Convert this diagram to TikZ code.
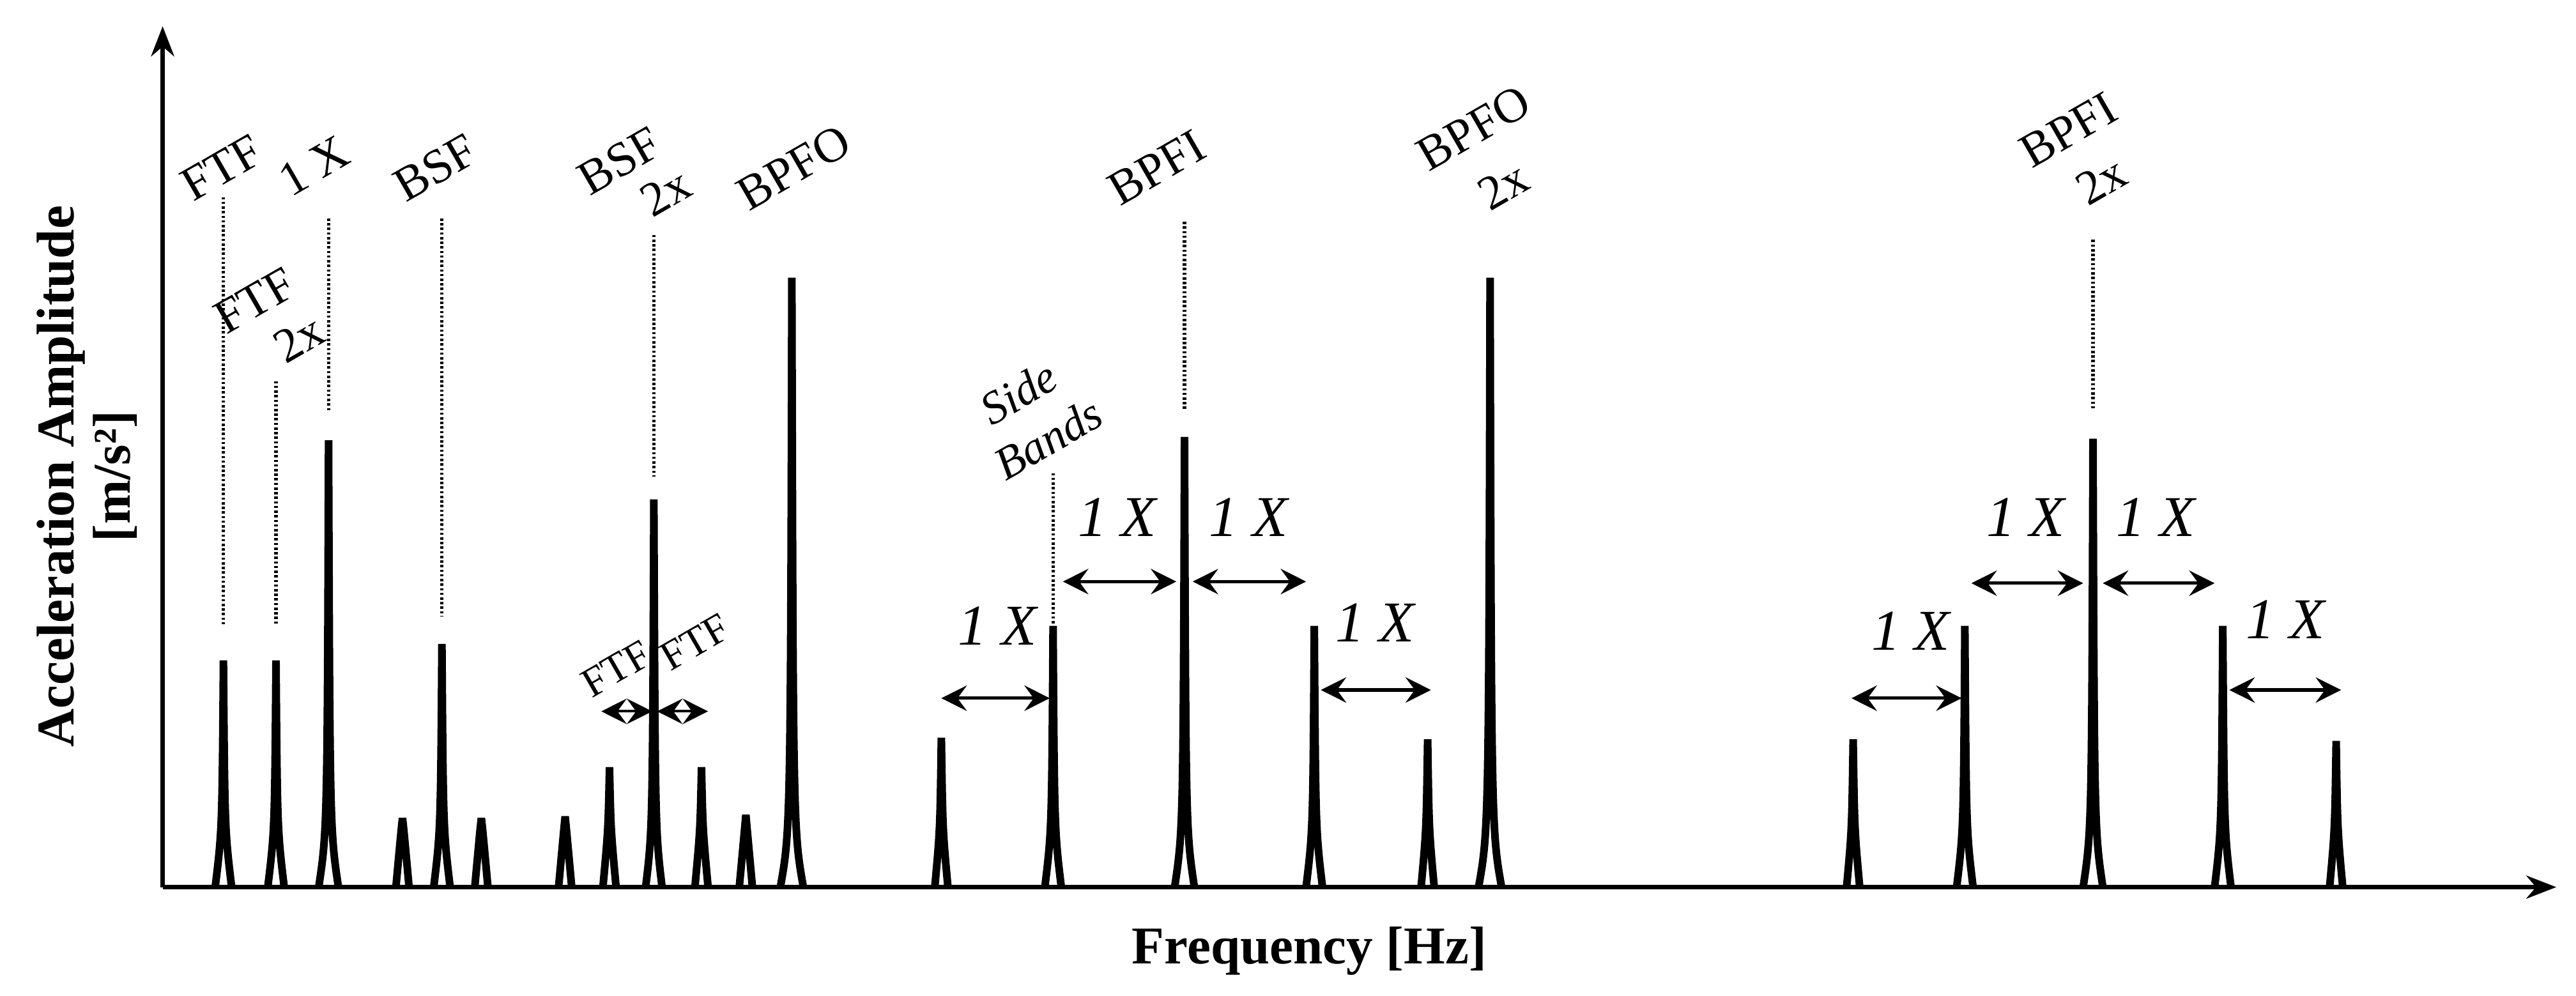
\documentclass[tikz,border=0pt]{standalone}
\usepackage{fontspec}
\setmainfont{Liberation Serif}
\usetikzlibrary{arrows.meta}
\begin{document}
\begin{tikzpicture}[x=0.025cm,y=-0.025cm,
  spikeln/.style={line width=3.3pt,line join=bevel},
  guide/.style={dash pattern=on 1pt off 1pt,line width=1.4pt},
  axisln/.style={line width=1.8pt,-{Stealth[length=13pt,width=10pt]}},
  gap/.style={line width=1.4pt,{Stealth[length=11pt,width=11pt,inset=4pt]}-{Stealth[length=11pt,width=11pt,inset=4pt]}},
  lbl/.style={rotate=30,font=\fontsize{21}{23}\selectfont,inner sep=0pt},
  onex/.style={font=\itshape\fontsize{25}{27}\selectfont,inner sep=0pt},
  axlbl/.style={font=\bfseries\fontsize{23}{26}\selectfont,inner sep=0pt}]
\useasboundingbox (0,0) rectangle (1568,606);
\newcommand{\myspike}[4]{%
  \coordinate (#4) at (#1,#2);
  \draw[spikeln] (#1-#3,540) .. controls (#1-0.8,505) .. (#1,#2) .. controls (#1+0.8,505) .. (#1+#3,540);}
% axes
\coordinate (O) at (99,540);
\coordinate (ytop) at (99,16);
\coordinate (xend) at (1556,540);
\draw[axisln] (O) -- (ytop);
\draw[axisln] (O) -- (xend);
% spikes
\myspike{136}{402}{5}{s1}
\myspike{168}{402}{5}{s2}
\myspike{200}{268}{6}{s3}
\myspike{245}{498}{4}{s4}
\myspike{269}{392}{5}{s5}
\myspike{293}{498}{4}{s6}
\myspike{344}{497}{4}{s7}
\myspike{371}{467}{4}{s8}
\myspike{398}{304}{5}{s9}
\myspike{427}{467}{4}{s10}
\myspike{454}{496}{4}{s11}
\myspike{482}{169}{7}{s12}
\myspike{573}{449}{4}{s13}
\myspike{641}{381}{5}{s14}
\myspike{721}{266}{6}{s15}
\myspike{800}{381}{5}{s16}
\myspike{869}{450}{4}{s17}
\myspike{907}{169}{7}{s18}
\myspike{1128}{450}{4}{s19}
\myspike{1196}{381}{5}{s20}
\myspike{1274}{267}{6}{s21}
\myspike{1353}{381}{5}{s22}
\myspike{1422}{451}{4}{s23}
% guides
\coordinate (g1) at (136,120); \coordinate (h1) at (136,380);
\coordinate (g2) at (168,232); \coordinate (h2) at (168,380);
\coordinate (g3) at (200,133); \coordinate (h3) at (200,250);
\coordinate (g5) at (269,133); \coordinate (h5) at (269,375);
\coordinate (g9) at (398,143); \coordinate (h9) at (398,290);
\coordinate (g14) at (641,288); \coordinate (h14) at (641,380);
\coordinate (g15) at (721,135); \coordinate (h15) at (721,250);
\coordinate (g21) at (1274,146); \coordinate (h21) at (1274,250);
\foreach \i in {1,2,3,5,9,14,15,21} \draw[guide] (g\i) -- (h\i);
% labels
\node[lbl] (t1) at (135,102) {FTF};
\node[lbl] (t3) at (191,101) {1 X};
\node[lbl] (t2a) at (155,183) {FTF};
\node[lbl] (t2b) at (182,206) {2x};
\node[lbl] (t5) at (265,102) {BSF};
\node[lbl] (t9a) at (377,98) {BSF};
\node[lbl] (t9b) at (405,117) {2x};
\node[lbl] (t12) at (483,102) {BPFO};
\node[lbl] (t15) at (704,102) {BPFI};
\node[lbl] (t18a) at (897,78) {BPFO};
\node[lbl] (t18b) at (915,113) {2x};
\node[lbl] (t21a) at (1259,79) {BPFI};
\node[lbl] (t21b) at (1279,110) {2x};
\node[lbl,font=\itshape\fontsize{20}{22}\selectfont] (sb1) at (620,239) {Side};
\node[lbl,font=\itshape\fontsize{20}{22}\selectfont] (sb2) at (638,267) {Bands};
\node[lbl,font=\fontsize{18}{20}\selectfont] (f1) at (375,407) {FTF};
\node[lbl,font=\fontsize{18}{20}\selectfont] (f2) at (423,391) {FTF};
% FTF arrows
\coordinate (fa1) at (366,433); \coordinate (fb1) at (397,433);
\coordinate (fa2) at (400,433); \coordinate (fb2) at (431,433);
\draw[gap,line width=1.1pt] (fa1) -- (fb1);
\draw[gap,line width=1.1pt] (fa2) -- (fb2);
% 1X arrows
\foreach \a/\b/\y/\lx/\ly [count=\k] in {573/639/425/607/381, 647/716/354/680/315, 726/795/354/760/315, 804/871/420/837/379,
  1127/1194/425/1163/384, 1200/1268/355/1233/315, 1280/1348/355/1312/315, 1357/1425/420/1391/377}{
  \coordinate (xa\k) at (\a,\y); \coordinate (xb\k) at (\b,\y);
  \draw[gap] (xa\k) -- (xb\k);
  \node[onex] (xl\k) at (\lx,\ly) {1 X};
}
% axis labels
\node[axlbl,rotate=90] (ya) at (37,290) {Acceleration Amplitude};
\node[axlbl,rotate=90] (yb) at (70,290) {[m/s²]};
\node[axlbl] (xa) at (797,579) {Frequency [Hz]};
\end{tikzpicture}
\end{document}
